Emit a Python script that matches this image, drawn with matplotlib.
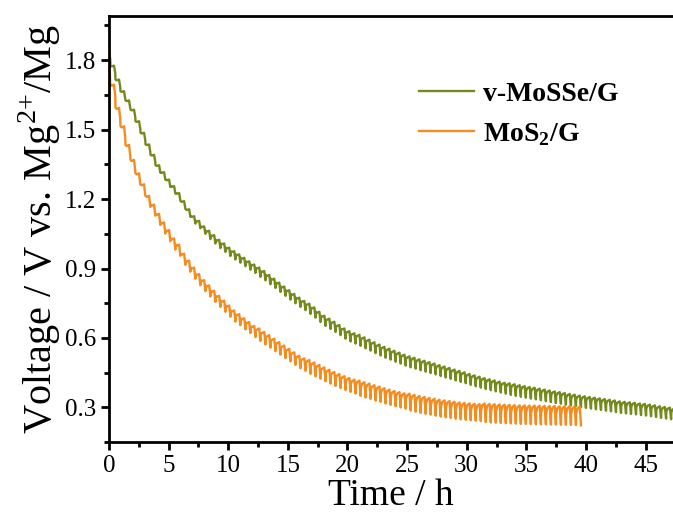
import matplotlib
matplotlib.use("Agg")
import matplotlib.pyplot as plt
from matplotlib.ticker import MultipleLocator

# GITT protocol: one pulse every PERIOD hours, pulse length PULSE hours
PERIOD = 0.42
PULSE = 0.1

# v-MoSSe/G: mid voltage and tooth height of every pulse
green_mid = [
    1.82, 1.76, 1.70, 1.65, 1.61, 1.57, 1.52, 1.47, 1.42, 1.375,
    1.33, 1.30, 1.268, 1.24, 1.21, 1.175, 1.14, 1.11, 1.09, 1.066,
    1.045, 1.026, 1.006, 0.99, 0.972, 0.957, 0.943, 0.928, 0.913, 0.899,
    0.884, 0.869, 0.852, 0.836, 0.819, 0.802, 0.786, 0.77, 0.754, 0.74,
    0.726, 0.71, 0.691, 0.674, 0.661, 0.648, 0.634, 0.619, 0.607, 0.598,
    0.59, 0.579, 0.569, 0.558, 0.548, 0.538, 0.53, 0.521, 0.513, 0.504,
    0.497, 0.491, 0.484, 0.478, 0.472, 0.466, 0.459, 0.453, 0.447, 0.44,
    0.434, 0.428, 0.421, 0.415, 0.409, 0.403, 0.398, 0.393, 0.388, 0.383,
    0.379, 0.375, 0.371, 0.367, 0.363, 0.36, 0.356, 0.352, 0.348, 0.344,
    0.341, 0.337, 0.333, 0.33, 0.326, 0.323, 0.32, 0.317, 0.314, 0.311,
    0.308, 0.305, 0.301, 0.299, 0.297, 0.295, 0.292, 0.29, 0.287, 0.284,
    0.28, 0.277, 0.274, 0.271,
]
green_span = (
    [0.032] * 20 + [0.036] * 10 + [0.040] * 10 + [0.044] * 10
    + [0.047] * 30 + [0.050] * 34
)

# MoS2/G
orange_mid = [
    1.785, 1.67, 1.57, 1.49, 1.41, 1.345, 1.287, 1.24, 1.19, 1.152,
    1.112, 1.075, 1.042, 1.006, 0.979, 0.94, 0.91, 0.88, 0.852, 0.826,
    0.803, 0.78, 0.758, 0.737, 0.716, 0.695, 0.679, 0.661, 0.645, 0.628,
    0.614, 0.599, 0.585, 0.57, 0.555, 0.54, 0.526, 0.511, 0.496, 0.485,
    0.475, 0.464, 0.454, 0.443, 0.433, 0.423, 0.414, 0.405, 0.397, 0.39,
    0.383, 0.376, 0.37, 0.363, 0.357, 0.35, 0.344, 0.338, 0.333, 0.328,
    0.323, 0.318, 0.313, 0.309, 0.305, 0.301, 0.297, 0.294, 0.291, 0.288,
    0.285, 0.283, 0.281, 0.279, 0.278, 0.277, 0.275, 0.274, 0.273, 0.272,
    0.271, 0.27, 0.269, 0.269, 0.268, 0.268, 0.267, 0.267, 0.266, 0.266,
    0.265, 0.265, 0.265, 0.264, 0.263,
]
orange_span = (
    [0.19] + [0.048] * 29 + [0.054] * 10 + [0.060] * 10 + [0.066] * 10
    + [0.073] * 15 + [0.080] * 20
)

GREEN = "#748a1c"
ORANGE = "#f58c1f"


def gitt_trace(mids, spans):
    xs, ys = [], []
    n = len(mids)
    for i in range(n):
        t = i * PERIOD
        top = mids[i] + spans[i] / 2
        bot = mids[i] - spans[i] / 2
        xs += [t, t + PULSE]
        ys += [top, bot]
        if i + 1 < n:
            nxt = mids[i + 1] + spans[i + 1] / 2
            jump = min(bot + 0.6 * spans[i], nxt)
            xs += [t + PULSE + 0.02, t + PULSE + 0.12]
            ys += [jump, nxt - 0.1 * spans[i + 1]]
    return xs, ys


plt.rcParams["font.family"] = "Liberation Serif"
plt.rcParams["mathtext.fontset"] = "custom"
plt.rcParams["mathtext.rm"] = "Liberation Serif"
plt.rcParams["mathtext.bf"] = "Liberation Serif:bold"

fig = plt.figure(figsize=(6.73, 5.19), dpi=100)
ax = fig.add_axes([0.162, 0.148, 0.838, 0.821])

gx, gy = gitt_trace(green_mid, green_span)
ox, oy = gitt_trace(orange_mid, orange_span)
ax.plot(gx, gy, color=GREEN, lw=1.7, label="v-MoSSe/G")
ax.plot(ox, oy, color=ORANGE, lw=1.7, label=r"MoS$_{\mathbf{2}}$/G")

ax.set_xlim(0, 47.3)
ax.set_ylim(0.15, 1.99)
ax.xaxis.set_major_locator(MultipleLocator(5))
ax.xaxis.set_minor_locator(MultipleLocator(2.5))
ax.yaxis.set_minor_locator(MultipleLocator(0.15))
ax.set_yticks([0.3, 0.6, 0.9, 1.2, 1.5, 1.8])
ax.set_yticklabels(["0.3", "0.6", "0.9", "1.2", "1.5", "1.8"])

ax.spines["right"].set_visible(False)
for s in ["left", "bottom", "top"]:
    ax.spines[s].set_linewidth(2.0)
ax.tick_params(which="both", direction="out", width=2.0, labelsize=18,
               top=False, right=False)
ax.tick_params(which="major", length=6)
ax.tick_params(which="minor", length=3.5)
ax.tick_params(axis="x", pad=3)

ax.set_xlabel("Time / h", fontsize=27, labelpad=1)
ax.set_ylabel(r"Voltage / V vs. Mg$^{2{+}}$/Mg", fontsize=29, labelpad=1)

ax.legend(loc="upper left", bbox_to_anchor=(0.505, 0.905), frameon=False,
          prop={"weight": "bold", "size": 20}, handlelength=2.0,
          handletextpad=0.3, labelspacing=0.5)

fig.savefig("out.png", dpi=100)
